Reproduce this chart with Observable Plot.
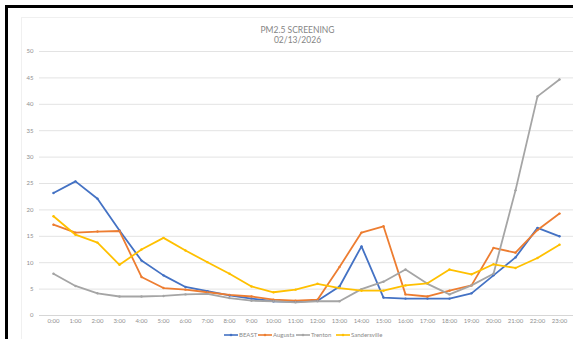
<!DOCTYPE html>
<html>
<head>
<meta charset="utf-8">
<script src="https://cdn.jsdelivr.net/npm/d3@7"></script>
<script src="https://cdn.jsdelivr.net/npm/@observablehq/plot@0.6"></script>
<style>
  html, body { margin: 0; padding: 0; background: #fff; }
  #wrap { position: relative; width: 573px; height: 339px; overflow: hidden; font-family: Lato, "Open Sans", sans-serif; }
  #frameL { position: absolute; left: 5px; top: 5px; width: 3px; height: 340px; background: #000; }
  #frameT { position: absolute; left: 5px; top: 5px; width: 580px; height: 3px; background: #000; }
  #area { position: absolute; left: 21px; top: 17px; width: 600px; height: 400px; border: 1px solid #f0f0f0; box-sizing: border-box; }
  .leg { position: absolute; top: 331px; font-size: 6px; color: #8a8a8a; display: flex; align-items: center; white-space: nowrap; }
  .leg svg { margin-right: 1px; }
  #chart { position: absolute; left: 0; top: 0; }
</style>
</head>
<body>
<div id="wrap">
  <div id="area"></div>
  <div id="chart"></div>
  <div id="legend"></div>
  <div id="frameL"></div>
  <div id="frameT"></div>
</div>
<script>
const hours = ["0:00","1:00","2:00","3:00","4:00","5:00","6:00","7:00","8:00","9:00","10:00","11:00","12:00","13:00","14:00","15:00","16:00","17:00","18:00","19:00","20:00","21:00","22:00","23:00"];
const seriesNames = ["BEAST","Augusta","Trenton","Sandersville"];
const seriesColors = ["#4472C4","#ED7D31","#A5A5A5","#FFC000"];
const beast = [23.2,25.4,22.1,16.1,10.4,7.6,5.4,4.6,3.8,3.2,2.7,2.6,2.8,5.5,13.1,3.4,3.2,3.2,3.2,4.2,7.6,11.0,16.6,15.0];
const augusta = [17.2,15.7,15.9,16.0,7.3,5.2,4.9,4.4,3.9,3.6,3.0,2.8,3.0,9.2,15.7,16.9,4.0,3.6,4.7,5.7,12.8,11.9,16.2,19.3];
const trenton = [7.9,5.6,4.2,3.6,3.6,3.7,4.0,4.1,3.3,2.8,2.7,2.5,2.7,2.7,5.0,6.4,8.7,6.0,4.0,5.7,7.9,23.7,41.5,44.7];
const sandersville = [18.8,15.3,13.8,9.6,12.5,14.7,12.3,10.1,7.9,5.5,4.4,4.9,6.0,5.2,4.7,4.7,5.7,6.1,8.7,7.8,9.7,9.0,10.9,13.4];
const yTicks = [0,5,10,15,20,25,30,35,40,45,50];
const titleLines = ["PM2.5 SCREENING", "02/13/2026"];

const allSeries = [beast, augusta, trenton, sandersville];
const data = [];
allSeries.forEach((vals, si) => vals.forEach((v, i) => data.push({hour: hours[i], value: v, series: seriesNames[si]})));

const chart = Plot.plot({
  width: 573,
  height: 339,
  marginLeft: 39,
  marginRight: 0,
  marginTop: 51,
  marginBottom: 24,
  style: {fontFamily: "Lato, 'Open Sans', sans-serif", fontSize: "6px", color: "#8a8a8a", background: "transparent"},
  x: {type: "point", domain: hours, padding: 0.5, label: null},
  y: {domain: [0, 50], label: null, ticks: yTicks},
  color: {domain: seriesNames, range: seriesColors},
  marks: [
    Plot.ruleY(yTicks.filter(d => d > 0), {stroke: "#e3e3e3", strokeWidth: 1}),
    Plot.ruleY([0], {stroke: "#d6d6d6", strokeWidth: 1}),
    Plot.axisX({tickSize: 0, tickPadding: 3, fill: "#8f8f8f", fontSize: 6}),
    Plot.axisY({ticks: yTicks, tickSize: 0, tickPadding: 6, fill: "#8f8f8f", fontSize: 6}),
    Plot.line(data, {x: "hour", y: "value", z: "series", stroke: "series", strokeWidth: 1.8, strokeLinejoin: "round", strokeLinecap: "round"}),
    Plot.dot(data, {x: "hour", y: "value", fill: "series", r: 1.2}),
    Plot.text([titleLines[0]], {frameAnchor: "top", dx: -9, dy: -25, fontSize: 8.5, fill: "#858585"}),
    Plot.text([titleLines[1]], {frameAnchor: "top", dx: -9, dy: -15, fontSize: 8.5, fill: "#858585"})
  ]
});
document.getElementById("chart").appendChild(chart);

// legend
const legPos = [224, 258, 296, 336];
const legend = document.getElementById("legend");
seriesNames.forEach((name, i) => {
  const d = document.createElement("div");
  d.className = "leg";
  d.style.left = legPos[i] + "px";
  d.innerHTML = `<svg width="14" height="6"><line x1="0" y1="3" x2="14" y2="3" stroke="${seriesColors[i]}" stroke-width="1.6"/><circle cx="7" cy="3" r="1.3" fill="${seriesColors[i]}"/></svg><span>${name}</span>`;
  legend.appendChild(d);
});
</script>
</body>
</html>
